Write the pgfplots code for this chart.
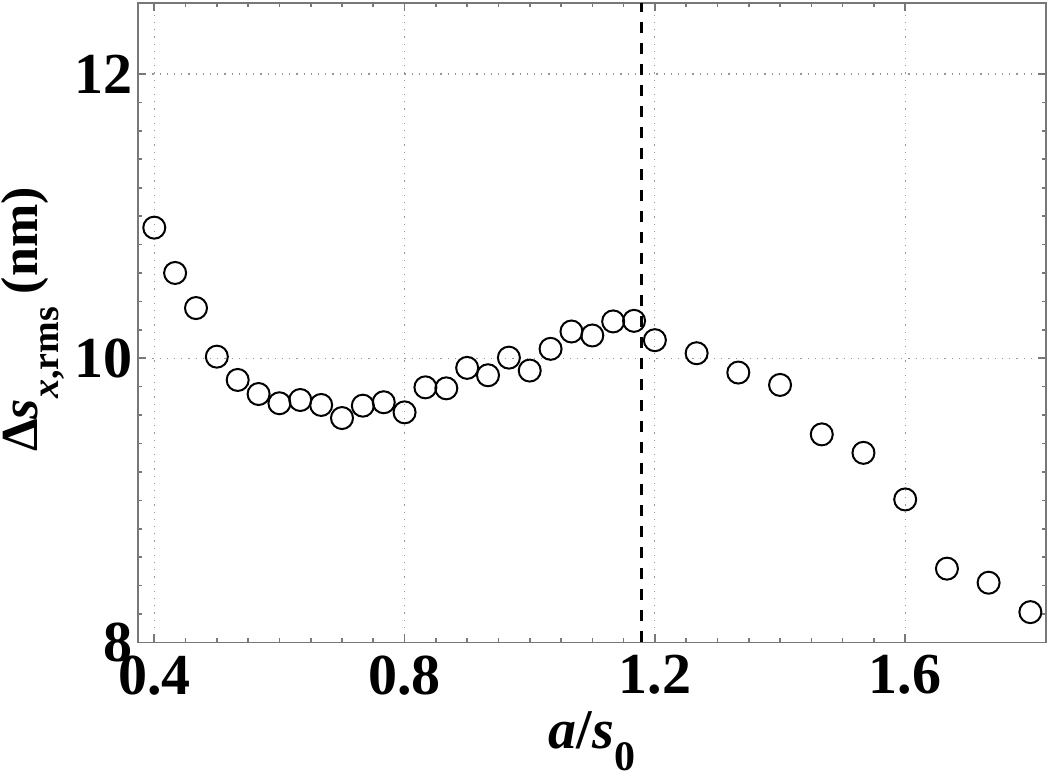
\documentclass[border=0pt]{standalone}
\usepackage{fontspec}
\setmainfont{Liberation Serif}
\usepackage{pgfplots}
\pgfplotsset{compat=1.18}

\pgfplotstableread{
x y
0.4000 10.919
0.4333 10.600
0.4667 10.353
0.5000 10.011
0.5333 9.847
0.5667 9.748
0.6000 9.683
0.6333 9.706
0.6667 9.671
0.7000 9.579
0.7333 9.666
0.7667 9.690
0.8000 9.619
0.8333 9.795
0.8667 9.788
0.9000 9.932
0.9333 9.880
0.9667 10.004
1.0000 9.913
1.0333 10.066
1.0667 10.188
1.1000 10.160
1.1333 10.259
1.1667 10.263
1.2000 10.127
1.2667 10.035
1.3333 9.899
1.4000 9.812
1.4667 9.464
1.5333 9.334
1.6000 9.006
1.6667 8.519
1.7333 8.420
1.8000 8.213
}\rms

\definecolor{framegray}{RGB}{120,120,120}
\definecolor{gridgray}{RGB}{150,150,150}

\begin{document}
\begin{tikzpicture}
\begin{axis}[
    scale only axis,
    width=454pt, height=319.7pt,
    xmin=0.374, xmax=1.825,
    ymin=8, ymax=12.5,
    xtick={0.4,0.8,1.2,1.6},
    ytick={8,10,12},
    minor x tick num=7,
    minor y tick num=9,
    tick align=inside,
    major tick length=4pt,
    minor tick length=2pt,
    every tick/.style={framegray, line width=0.8pt},
    axis line style={framegray, line width=0.8pt},
    grid=major,
    major grid style={gridgray, line width=0.6pt, dash pattern=on 0.6pt off 3pt},
    /pgf/number format/assume math mode=true,
    /pgf/number format/fixed,
    /pgf/number format/precision=1,
    tick label style={font=\fontsize{29}{30}\selectfont\bfseries},
    xticklabel style={yshift=-3pt},
    yticklabel style={xshift=1pt},
    xlabel={\textbf{\textit{a}/\textit{s}\raisebox{-0.4em}{\fontsize{21}{22}\selectfont 0}}},
    ylabel={\textbf{Δ\textit{s}\raisebox{-0.4em}{\fontsize{19}{20}\selectfont\textit{x},rms} (nm)}},
    xlabel style={font=\fontsize{28}{30}\selectfont\bfseries, yshift=-1.5pt},
    ylabel style={font=\fontsize{26}{28}\selectfont\bfseries,
        at={(axis description cs:-0.1156,0.505)}, anchor=center},
    clip=false,
]
\addplot[only marks, mark=o, mark size=5.5pt, mark options={line width=1pt, black}] table[x=x, y=y] {\rms};
\addplot[black, line width=1.6pt, dash pattern=on 5.5pt off 5pt] coordinates {(1.178,8) (1.178,12.5)};
\coordinate (bl) at (rel axis cs:0,0);
\coordinate (tr) at (rel axis cs:1,1);
\end{axis}
\pgfresetboundingbox
\path ([shift={(-69pt,-68pt)}]bl) rectangle ([shift={(2pt,1.5pt)}]tr);
\end{tikzpicture}
\end{document}
